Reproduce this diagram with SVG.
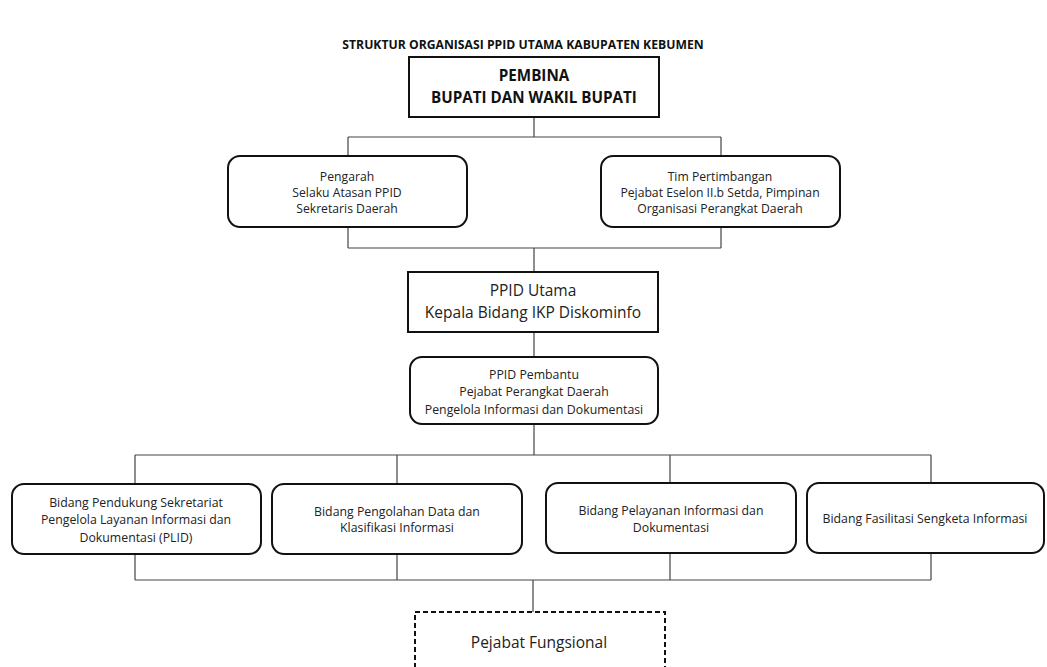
<svg xmlns="http://www.w3.org/2000/svg" width="1047" height="667" viewBox="0 0 1047 667">
<style>
text{font-family:"Open Sans","Liberation Sans",sans-serif;fill:#222;text-anchor:middle}
.title{font-weight:bold;font-size:12.2px;fill:#111}
.big{font-weight:bold;font-size:15.2px;fill:#111}
.mid{font-size:15.5px}
.sm{font-size:12.2px}
.md{font-size:12.3px}
.box{fill:#fff;stroke:#111;stroke-width:2}
.dash{fill:#fff;stroke:#111;stroke-width:2;stroke-dasharray:5 3}
.conn{fill:none;stroke:#444;stroke-width:1.2}
</style>
<rect width="1047" height="667" fill="#fff"/>
<text class="title" x="523" y="49">STRUKTUR ORGANISASI PPID UTAMA KABUPATEN KEBUMEN</text>
<g id="connectors">
<path class="conn" d="M534 117V137M348 137H721M348 137V156M721 137V156M348 227V248M721 227V248M348 248H721M534 248V272M534 332V357M534 424V455M135 455H931M135 455V484M397 455V484M670 455V484M931 455V483M135 554V580M397 554V580M670 553V580M931 553V580M135 580H931M533 580V612"/>
</g>
<g id="pembina">
<rect class="box" x="409" y="57" width="250" height="60"/>
<text class="big" x="534" y="81">PEMBINA</text>
<text class="big" x="534" y="103">BUPATI DAN WAKIL BUPATI</text>
</g>
<g id="pengarah">
<rect class="box" x="228" y="156" width="239" height="71" rx="12"/>
<text class="sm" x="347" y="181">Pengarah</text>
<text class="sm" x="347" y="197">Selaku Atasan PPID</text>
<text class="sm" x="347" y="213">Sekretaris Daerah</text>
</g>
<g id="tim">
<rect class="box" x="601" y="156" width="239" height="71" rx="12"/>
<text class="sm" x="720" y="181">Tim Pertimbangan</text>
<text class="sm" x="720" y="197">Pejabat Eselon II.b Setda, Pimpinan</text>
<text class="sm" x="720" y="213">Organisasi  Perangkat Daerah</text>
</g>
<g id="ppid-utama">
<rect class="box" x="408" y="272" width="250" height="60"/>
<text class="mid" x="533" y="296">PPID Utama</text>
<text class="mid" x="533" y="318">Kepala Bidang IKP Diskominfo</text>
</g>
<g id="ppid-pembantu">
<rect class="box" x="410" y="357" width="248" height="67" rx="12"/>
<text class="md" x="534" y="379">PPID Pembantu</text>
<text class="md" x="534" y="396">Pejabat Perangkat Daerah</text>
<text class="md" x="534" y="414">Pengelola Informasi dan Dokumentasi</text>
</g>
<g id="bidang-pendukung">
<rect class="box" x="12" y="484" width="249" height="70" rx="12"/>
<text class="md" x="136" y="507">Bidang Pendukung Sekretariat</text>
<text class="md" x="136" y="524">Pengelola Layanan Informasi dan</text>
<text class="md" x="136" y="542">Dokumentasi (PLID)</text>
</g>
<g id="bidang-pengolahan">
<rect class="box" x="272" y="484" width="250" height="70" rx="12"/>
<text class="md" x="397" y="516">Bidang Pengolahan Data dan</text>
<text class="md" x="397" y="532">Klasifikasi Informasi</text>
</g>
<g id="bidang-pelayanan">
<rect class="box" x="546" y="483" width="250" height="70" rx="12"/>
<text class="md" x="671" y="515">Bidang Pelayanan Informasi dan</text>
<text class="md" x="671" y="532">Dokumentasi</text>
</g>
<g id="bidang-fasilitasi">
<rect class="box" x="807" y="483" width="237" height="70" rx="12"/>
<text class="md" x="925" y="523">Bidang Fasilitasi Sengketa Informasi</text>
</g>
<g id="pejabat-fungsional">
<rect class="dash" x="415" y="612" width="250" height="70"/>
<text class="mid" x="539" y="648">Pejabat Fungsional</text>
</g>
</svg>
